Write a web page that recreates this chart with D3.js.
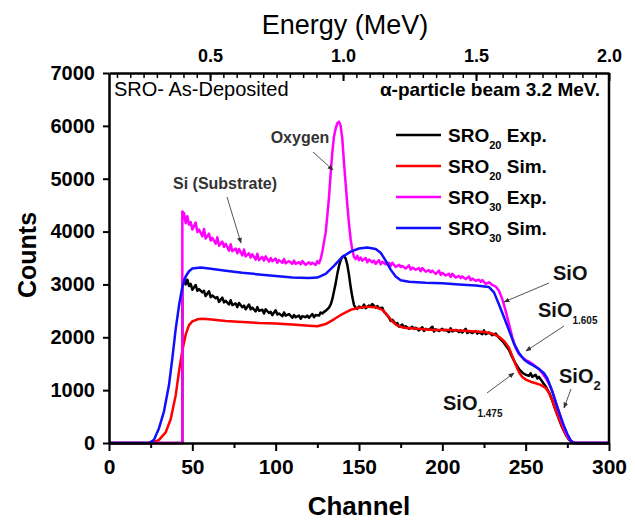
<!DOCTYPE html>
<html>
<head>
<meta charset="utf-8">
<script src="https://cdn.jsdelivr.net/npm/d3@7"></script>
<style>
body { margin: 0; background: #fff; }
text { font-family: "Liberation Sans", Arial, sans-serif; }
</style>
</head>
<body>
<script>
// ---- data: [channel, counts] ----
var sro20Exp = [[0,0],[44,0],[44,3100],[45,3100],[46,3000],[47,3090],[48,2970],[49,3010],[50,2900],[52,2990],[53,2880],[54,2910],[56,2850],[57,2880],[58,2780],[60,2870],[61,2760],[62,2790],[64,2740],[65,2760],[66,2670],[68,2750],[69,2660],[70,2690],[72,2620],[73,2700],[74,2610],[76,2640],[77,2570],[78,2650],[80,2570],[81,2600],[82,2530],[84,2620],[85,2530],[86,2560],[88,2490],[89,2570],[90,2500],[92,2520],[93,2450],[94,2530],[96,2460],[97,2480],[98,2420],[100,2510],[101,2430],[102,2450],[104,2400],[105,2470],[106,2410],[108,2440],[110,2370],[111,2420],[112,2380],[114,2410],[115,2350],[116,2400],[118,2380],[119,2410],[120,2370],[122,2440],[123,2380],[124,2420],[126,2410],[127,2470],[128,2450],[129,2480],[130,2500],[131,2530],[132,2560],[133,2620],[134,2720],[135,2870],[136,3020],[137,3200],[138,3350],[139,3460],[140,3520],[141,3540],[142,3490],[143,3370],[144,3180],[145,2950],[146,2760],[147,2610],[148,2560],[149,2540],[150,2580],[152,2560],[153,2620],[154,2550],[156,2600],[157,2580],[158,2630],[160,2560],[161,2590],[162,2550],[164,2560],[165,2480],[166,2450],[168,2370],[169,2310],[170,2330],[172,2250],[173,2270],[174,2200],[176,2240],[177,2180],[178,2210],[180,2160],[182,2200],[183,2160],[184,2180],[186,2130],[188,2190],[189,2120],[190,2160],[192,2140],[194,2200],[195,2110],[196,2150],[198,2120],[200,2160],[201,2130],[202,2140],[204,2100],[205,2170],[206,2110],[208,2140],[210,2100],[211,2130],[212,2090],[214,2160],[215,2080],[216,2110],[218,2080],[220,2120],[221,2070],[222,2100],[224,2060],[225,2130],[226,2060],[228,2090],[230,2040],[232,2070],[234,1990],[236,1930],[238,1850],[240,1760],[242,1620],[244,1500],[246,1400],[248,1330],[250,1290],[252,1270],[253,1320],[254,1250],[256,1290],[257,1220],[258,1250],[260,1160],[262,1070],[264,960],[266,800],[268,620],[270,450],[272,290],[274,160],[276,60],[278,10],[280,0],[300,0]];

var sro20Sim = [[0,0],[26,0],[30,60],[34,200],[37,450],[40,900],[42,1350],[44,1750],[46,2050],[48,2230],[50,2300],[53,2340],[56,2350],[60,2340],[70,2310],[80,2290],[90,2270],[100,2260],[110,2240],[120,2220],[125,2210],[130,2250],[135,2340],[140,2440],[145,2520],[150,2560],[155,2580],[160,2570],[164,2520],[167,2420],[170,2300],[173,2220],[177,2180],[185,2160],[195,2140],[205,2140],[215,2120],[225,2100],[230,2070],[234,2010],[237,1930],[240,1800],[242,1640],[244,1480],[246,1340],[248,1250],[250,1200],[253,1160],[256,1130],[259,1100],[262,1040],[264,950],[266,800],[268,620],[270,460],[272,300],[274,170],[276,70],[278,15],[280,0],[300,0]];

var sro30Exp = [[0,0],[44,0],[44,4380],[45,4350],[46,4160],[47,4290],[48,4130],[49,4180],[50,4040],[52,4170],[53,3990],[54,4040],[56,3910],[57,4050],[58,3870],[60,3960],[61,3830],[62,3880],[64,3770],[65,3890],[66,3730],[68,3810],[69,3710],[70,3770],[72,3640],[73,3760],[74,3630],[76,3680],[77,3590],[78,3670],[80,3550],[81,3660],[82,3530],[84,3590],[85,3510],[86,3570],[88,3470],[89,3580],[90,3460],[92,3520],[93,3450],[94,3530],[96,3430],[97,3500],[98,3440],[100,3490],[101,3410],[102,3460],[104,3410],[105,3480],[106,3400],[108,3440],[110,3390],[111,3450],[112,3390],[114,3420],[115,3380],[116,3440],[118,3370],[120,3420],[121,3380],[122,3410],[124,3370],[125,3440],[126,3400],[127,3480],[128,3620],[129,3800],[130,3980],[131,4300],[132,4650],[133,5100],[134,5500],[135,5800],[136,5950],[137,6050],[138,6080],[139,6000],[140,5750],[141,5300],[142,4900],[143,4500],[144,4150],[145,3850],[146,3650],[147,3520],[148,3480],[149,3540],[150,3460],[151,3510],[152,3450],[154,3500],[155,3420],[156,3470],[158,3420],[159,3450],[160,3390],[162,3460],[163,3380],[164,3430],[166,3380],[168,3410],[169,3350],[170,3410],[172,3330],[174,3370],[175,3330],[176,3350],[178,3300],[180,3360],[181,3280],[182,3320],[184,3280],[186,3310],[187,3250],[188,3310],[190,3240],[192,3270],[193,3230],[194,3260],[196,3200],[198,3260],[199,3180],[200,3220],[202,3170],[204,3200],[205,3140],[206,3200],[208,3130],[210,3160],[211,3120],[212,3150],[214,3100],[216,3150],[217,3080],[218,3110],[220,3070],[222,3090],[223,3050],[224,3080],[226,3010],[228,3040],[230,2990],[232,2960],[234,2880],[236,2720],[238,2500],[240,2250],[242,2000],[244,1800],[246,1680],[248,1620],[250,1570],[252,1540],[254,1500],[256,1450],[258,1400],[260,1320],[262,1230],[264,1120],[266,980],[268,780],[270,580],[272,380],[274,200],[276,80],[278,20],[280,0],[300,0]];

var sro30Sim = [[0,0],[24,0],[27,60],[30,280],[33,600],[36,1100],[38,1600],[40,2150],[42,2600],[44,2950],[46,3150],[48,3250],[50,3300],[55,3320],[60,3300],[70,3260],[80,3220],[90,3190],[100,3160],[110,3130],[120,3120],[125,3130],[130,3200],[135,3350],[140,3520],[145,3620],[150,3680],[155,3700],[160,3670],[163,3600],[166,3450],[169,3280],[172,3150],[175,3080],[180,3050],[190,3030],[200,3020],[210,3000],[220,2980],[228,2950],[231,2850],[234,2620],[237,2380],[240,2130],[243,1880],[246,1700],[249,1580],[252,1510],[255,1460],[258,1400],[261,1320],[263,1220],[265,1060],[267,870],[269,680],[271,500],[273,320],[275,170],[277,50],[279,0],[300,0]];

var seriesNames = ["SRO20 Exp.", "SRO20 Sim.", "SRO30 Exp.", "SRO30 Sim."];
var channelTicks = [0, 50, 100, 150, 200, 250, 300];
var channelMinor = [25, 75, 125, 175, 225, 275];
var countTicks = [0, 1000, 2000, 3000, 4000, 5000, 6000, 7000];
var energyTicks = [0.5, 1.0, 1.5, 2.0];
var energyMinor = d3.range(3, 40).map(function(i) { return i * 0.05; });

// ---- layout ----
var width = 635, height = 520;
var margin = {top: 73, right: 26, bottom: 77, left: 109};

var x = d3.scaleLinear().domain([0, 300]).range([margin.left, width - margin.right]);
var y = d3.scaleLinear().domain([0, 7000]).range([height - margin.bottom, margin.top]);
var xE = d3.scaleLinear().domain([0.12, 2.0]).range(x.range());

var svg = d3.select('body').append('svg')
	.attr('width', width)
	.attr('height', height);

svg.append('defs').append('marker')
	.attr('id', 'arrow')
	.attr('viewBox', '0 0 10 10')
	.attr('refX', 9).attr('refY', 5)
	.attr('markerWidth', 6).attr('markerHeight', 6)
	.attr('orient', 'auto')
	.append('path')
	.attr('d', 'M0,1L10,5L0,9Z')
	.attr('fill', '#333');

// curves
var line = d3.line()
	.x(function(d) { return x(d[0]); })
	.y(function(d) { return y(d[1]); });

var series = [
	{data: sro20Exp, color: '#000000'},
	{data: sro20Sim, color: '#ff0000'},
	{data: sro30Exp, color: '#ff00ff'},
	{data: sro30Sim, color: '#1010ff'}
];

svg.append('g').selectAll('path')
	.data(series)
	.enter().append('path')
	.attr('d', function(d) { return line(d.data); })
	.attr('fill', 'none')
	.attr('stroke', function(d) { return d.color; })
	.attr('stroke-width', 2.5)
	.attr('stroke-linejoin', 'round');

// axes
function styleAxis(g, size) {
	g.select('.domain').attr('stroke-width', 2.5);
	g.selectAll('.tick line').attr('stroke-width', 2);
	g.selectAll('.tick text')
		.attr('font-family', '"Liberation Sans", Arial, sans-serif')
		.attr('font-weight', 'bold')
		.attr('font-size', size)
		.attr('fill', '#000');
}

var y0 = y(0), y1 = y(7000);

svg.append('g')
	.attr('transform', 'translate(0,' + y0 + ')')
	.call(d3.axisBottom(x).tickValues(channelMinor).tickSize(5).tickFormat(''))
	.call(function(g) { g.select('.domain').remove(); g.selectAll('line').attr('stroke-width', 2); });

svg.append('g')
	.attr('transform', 'translate(0,' + y0 + ')')
	.call(d3.axisBottom(x).tickValues(channelTicks).tickSizeInner(8).tickSizeOuter(0).tickPadding(8))
	.call(styleAxis, 21);

svg.append('g')
	.attr('transform', 'translate(' + x(0) + ',0)')
	.call(d3.axisLeft(y).tickValues(countTicks).tickSizeInner(6).tickSizeOuter(0).tickPadding(8).tickFormat(d3.format('d')))
	.call(styleAxis, 20);

svg.append('g')
	.attr('transform', 'translate(0,' + y1 + ')')
	.call(d3.axisTop(xE).tickValues(energyMinor).tickSize(-5).tickFormat(''))
	.call(function(g) { g.select('.domain').remove(); g.selectAll('line').attr('stroke-width', 1.5); });

svg.append('g')
	.attr('transform', 'translate(0,' + y1 + ')')
	.call(d3.axisTop(xE).tickValues(energyTicks).tickSizeInner(-8).tickSizeOuter(0).tickPadding(11).tickFormat(d3.format('.1f')))
	.call(styleAxis, 18);

// right frame
svg.append('line')
	.attr('x1', x(300)).attr('x2', x(300))
	.attr('y1', y1).attr('y2', y0)
	.attr('stroke', '#000').attr('stroke-width', 2.5);

// axis titles
svg.append('text')
	.attr('x', 345).attr('y', 34)
	.attr('text-anchor', 'middle')
	.attr('font-size', 27)
	.text('Energy (MeV)');

svg.append('text')
	.attr('x', (x(0) + x(300)) / 2).attr('y', 515)
	.attr('text-anchor', 'middle')
	.attr('font-size', 26).attr('font-weight', 'bold')
	.text('Channel');

svg.append('text')
	.attr('transform', 'translate(36,255) rotate(-90)')
	.attr('text-anchor', 'middle')
	.attr('font-size', 25).attr('font-weight', 'bold')
	.text('Counts');

// inner labels
svg.append('text')
	.attr('x', 114).attr('y', 96)
	.attr('font-size', 20)
	.text('SRO- As-Deposited');

svg.append('text')
	.attr('x', 600).attr('y', 96)
	.attr('text-anchor', 'end')
	.attr('font-size', 19).attr('font-weight', 'bold')
	.text('\u03b1-particle beam 3.2 MeV.');

// legend
var legend = svg.append('g').selectAll('g')
	.data(series)
	.enter().append('g')
	.attr('transform', function(d, i) { return 'translate(396,' + (135 + i * 31) + ')'; });

legend.append('line')
	.attr('x1', 0).attr('x2', 45)
	.attr('stroke', function(d) { return d.color; })
	.attr('stroke-width', 2.5);

var legText = legend.append('text')
	.attr('x', 52).attr('y', 7)
	.attr('font-size', 19).attr('font-weight', 'bold');
legText.append('tspan').text('SRO');
legText.append('tspan')
	.attr('font-size', 11).attr('dy', 7)
	.text(function(d, i) { return seriesNames[i].slice(3, 5); });
legText.append('tspan')
	.attr('dy', -7)
	.text(function(d, i) { return seriesNames[i].slice(5); });

// annotations
var notes = [
	{text: 'Si (Substrate)', sub: '', tx: 225, ty: 189, size: 16, anchor: 'middle', a: [227, 197, 241, 243]},
	{text: 'Oxygen', sub: '', tx: 300, ty: 143, size: 16, anchor: 'middle', a: [313, 152, 333, 170]},
	{text: 'SiO', sub: '', tx: 553, ty: 280, size: 20, anchor: 'start', a: [549, 283, 504, 302]},
	{text: 'SiO', sub: '1.605', tx: 538, ty: 317, size: 20, anchor: 'start', a: [564, 326, 526, 351]},
	{text: 'SiO', sub: '2', tx: 559, ty: 383, size: 20, anchor: 'start', a: [571, 389, 564, 408]},
	{text: 'SiO', sub: '1.475', tx: 443, ty: 410, size: 20, anchor: 'start', a: [487, 393, 514, 373]}
];

svg.append('g').selectAll('line')
	.data(notes)
	.enter().append('line')
	.attr('x1', function(d) { return d.a[0]; })
	.attr('y1', function(d) { return d.a[1]; })
	.attr('x2', function(d) { return d.a[2]; })
	.attr('y2', function(d) { return d.a[3]; })
	.attr('stroke', '#555').attr('stroke-width', 1)
	.attr('marker-end', 'url(#arrow)');

var noteText = svg.append('g').selectAll('text')
	.data(notes)
	.enter().append('text')
	.attr('x', function(d) { return d.tx; })
	.attr('y', function(d) { return d.ty; })
	.attr('text-anchor', function(d) { return d.anchor; })
	.attr('font-size', function(d) { return d.size; })
	.attr('font-weight', 'bold')
	.attr('fill', function(d) { return d.size < 18 ? '#333' : '#111'; });
noteText.append('tspan').text(function(d) { return d.text; });
noteText.append('tspan')
	.attr('font-size', function(d) { return d.sub === '2' ? 13 : 10; })
	.attr('dy', 7)
	.text(function(d) { return d.sub; });
</script>
</body>
</html>
